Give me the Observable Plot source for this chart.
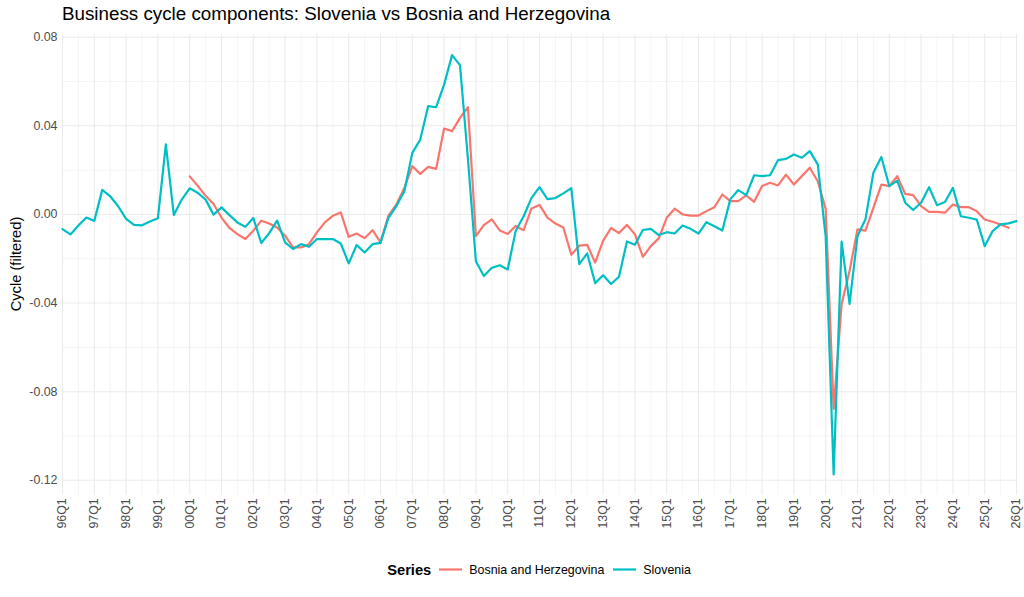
<!DOCTYPE html>
<html>
<head>
<meta charset="utf-8">
<script src="https://cdn.jsdelivr.net/npm/d3@7"></script>
<script src="https://cdn.jsdelivr.net/npm/@observablehq/plot@0.6"></script>
<style>
  body { margin: 0; background: #fff; font-family: "Liberation Sans", Arial, sans-serif; }
  #wrap { position: relative; width: 1024px; height: 597px; overflow: hidden; }
  #chart { position: absolute; left: 0; top: 0; }
  #title { position: absolute; left: 62px; top: 3px; font-size: 18.8px; color: #000; white-space: nowrap; }
  #ylab { position: absolute; left: 16px; top: 264px; font-size: 14.7px; color: #000; white-space: nowrap;
          transform: translate(-50%, -50%) rotate(-90deg); }
  #legend { position: absolute; left: 0; width: 1078px; top: 561px; display: flex; justify-content: center; align-items: center; }
  #legend .ttl { font-size: 14.7px; font-weight: bold; margin-right: 7px; }
  #legend .item { display: flex; align-items: center; font-size: 12.4px; color: #000; margin-right: 8px; }
  #legend .item:last-child { margin-right: 0; }
  #legend svg { margin-right: 6px; }
</style>
</head>
<body>
<div id="wrap">
  <div id="chart"></div>
  <div id="title">Business cycle components: Slovenia vs Bosnia and Herzegovina</div>
  <div id="ylab">Cycle (filtered)</div>
  <div id="legend"></div>
</div>
<script>
// ---- data (quarterly cycle components) ----
const seriesNames = ["Bosnia and Herzegovina", "Slovenia"];
const seriesColors = ["#F8766D", "#00BFC4"];

const sloveniaStartYear = 1996; // 1996Q1
const slovenia = [
  -0.0066, -0.0090, -0.0050, -0.0014,   // 1996
  -0.0029,  0.0111,  0.0082,  0.0037,   // 1997
  -0.0020, -0.0047, -0.0049, -0.0032,   // 1998
  -0.0017,  0.0316, -0.0002,  0.0067,   // 1999
   0.0118,  0.0098,  0.0067, -0.0001,   // 2000
   0.0032, -0.0003, -0.0036, -0.0056,   // 2001
  -0.0016, -0.0129, -0.0084, -0.0028,   // 2002
  -0.0126, -0.0156, -0.0134, -0.0146,   // 2003
  -0.0111, -0.0111, -0.0111, -0.0131,   // 2004
  -0.0221, -0.0138, -0.0172, -0.0134,   // 2005
  -0.0128, -0.0015,  0.0038,  0.0105,   // 2006
   0.0278,  0.0338,  0.0489,  0.0484,   // 2007
   0.0586,  0.0719,  0.0674,  0.0250,   // 2008
  -0.0211, -0.0278, -0.0241, -0.0229,   // 2009
  -0.0248, -0.0075, -0.0008,  0.0075,   // 2010
   0.0123,  0.0069,  0.0074,  0.0095,   // 2011
   0.0119, -0.0224, -0.0176, -0.0310,   // 2012
  -0.0274, -0.0314, -0.0281, -0.0122,   // 2013
  -0.0137, -0.0070, -0.0065, -0.0093,   // 2014
  -0.0080, -0.0086, -0.0050, -0.0065,   // 2015
  -0.0086, -0.0035, -0.0053, -0.0072,   // 2016
   0.0068,  0.0110,  0.0087,  0.0177,   // 2017
   0.0173,  0.0177,  0.0245,  0.0251,   // 2018
   0.0271,  0.0256,  0.0286,  0.0226,   // 2019
  -0.0100, -0.1173, -0.0122, -0.0404,   // 2020
  -0.0098, -0.0022,  0.0188,  0.0259,   // 2021
   0.0128,  0.0153,  0.0053,  0.0020,   // 2022
   0.0053,  0.0123,  0.0042,  0.0056,   // 2023
   0.0120, -0.0008, -0.0015, -0.0023,   // 2024
  -0.0143, -0.0075, -0.0045, -0.0040,   // 2025
  -0.0030                               // 2026Q1
];

const bosniaStartYear = 2000; // 2000Q1
const bosnia = [
   0.0172,  0.0130,  0.0084,  0.0047,   // 2000
  -0.0014, -0.0061, -0.0089, -0.0111,   // 2001
  -0.0074, -0.0028, -0.0041, -0.0059,   // 2002
  -0.0096, -0.0149, -0.0149, -0.0134,   // 2003
  -0.0081, -0.0036, -0.0006,  0.0009,   // 2004
  -0.0101, -0.0086, -0.0107, -0.0071,   // 2005
  -0.0126, -0.0005,  0.0045,  0.0120,   // 2006
   0.0218,  0.0183,  0.0215,  0.0206,   // 2007
   0.0388,  0.0376,  0.0436,  0.0484,   // 2008
  -0.0098, -0.0048, -0.0022, -0.0072,   // 2009
  -0.0088, -0.0052, -0.0071,  0.0027,   // 2010
   0.0043, -0.0014, -0.0041, -0.0059,   // 2011
  -0.0182, -0.0141, -0.0137, -0.0217,   // 2012
  -0.0119, -0.0061, -0.0084, -0.0047,   // 2013
  -0.0089, -0.0191, -0.0143, -0.0108,   // 2014
  -0.0015,  0.0026,  0.0000, -0.0005,   // 2015
  -0.0005,  0.0015,  0.0033,  0.0090,   // 2016
   0.0060,  0.0060,  0.0086,  0.0057,   // 2017
   0.0128,  0.0143,  0.0131,  0.0180,   // 2018
   0.0135,  0.0173,  0.0211,  0.0150,   // 2019
   0.0025, -0.0878, -0.0405, -0.0255,   // 2020
  -0.0067, -0.0073,  0.0030,  0.0135,   // 2021
   0.0128,  0.0173,  0.0093,  0.0087,   // 2022
   0.0038,  0.0012,  0.0012,  0.0008,   // 2023
   0.0045,  0.0033,  0.0033,  0.0015,   // 2024
  -0.0023, -0.0033, -0.0045, -0.0060    // 2025
];

const xTickYears = d3.range(1996, 2027);            // labels "96Q1" ... "26Q1"
const yTicksMajor = [-0.12, -0.08, -0.04, 0, 0.04, 0.08];
const yTicksMinor = [-0.10, -0.06, -0.02, 0.02, 0.06];

// ---- build table ----
const rows = [];
bosnia.forEach((v, i) => rows.push({t: bosniaStartYear + i / 4, value: v, series: seriesNames[0]}));
slovenia.forEach((v, i) => rows.push({t: sloveniaStartYear + i / 4, value: v, series: seriesNames[1]}));

const xMinor = xTickYears.slice(0, -1).map(y => y + 0.5);
const yExt = d3.extent(rows, d => d.value);
const pad = (yExt[1] - yExt[0]) * 0.05;
const grid = "#EBEBEB";
const tickFmtX = y => String(y % 100).padStart(2, "0") + "Q1";

const chart = Plot.plot({
  width: 1024,
  height: 597,
  marginTop: 33.7,
  marginBottom: 102.2,
  marginLeft: 62,
  marginRight: 8,
  style: {fontFamily: '"Liberation Sans", Arial, sans-serif', fontSize: "12.4px", background: "#fff"},
  x: {domain: [1996, 2026]},
  y: {domain: [yExt[0] - pad, yExt[1] + pad]},
  color: {domain: seriesNames, range: seriesColors},
  marks: [
    Plot.gridY(yTicksMinor, {stroke: grid, strokeOpacity: 1, strokeWidth: 0.55}),
    Plot.gridX(xMinor, {stroke: grid, strokeOpacity: 1, strokeWidth: 0.55}),
    Plot.gridY(yTicksMajor, {stroke: grid, strokeOpacity: 1, strokeWidth: 1.07}),
    Plot.gridX(xTickYears, {stroke: grid, strokeOpacity: 1, strokeWidth: 1.07}),
    Plot.axisY(yTicksMajor, {tickSize: 0, tickPadding: 5, tickFormat: d => d.toFixed(2), label: null, fill: "#4D4D4D", fontSize: 12.4}),
    Plot.axisX(xTickYears, {tickSize: 0, tickPadding: 3, tickRotate: -90, tickFormat: tickFmtX, label: null, fill: "#4D4D4D", fontSize: 12.4}),
    Plot.lineY(rows, {x: "t", y: "value", z: "series", stroke: "series", strokeWidth: 2.2, strokeLinejoin: "round"})
  ]
});
document.getElementById("chart").appendChild(chart);

// ---- legend ----
const legend = document.getElementById("legend");
const ttl = document.createElement("span");
ttl.className = "ttl";
ttl.textContent = "Series";
legend.appendChild(ttl);
seriesNames.forEach((name, i) => {
  const item = document.createElement("span");
  item.className = "item";
  item.innerHTML = `<svg width="25" height="17"><line x1="1" x2="24" y1="8.5" y2="8.5" stroke="${seriesColors[i]}" stroke-width="2.2"/></svg>`;
  const label = document.createElement("span");
  label.textContent = name;
  item.appendChild(label);
  legend.appendChild(item);
});
</script>
</body>
</html>
